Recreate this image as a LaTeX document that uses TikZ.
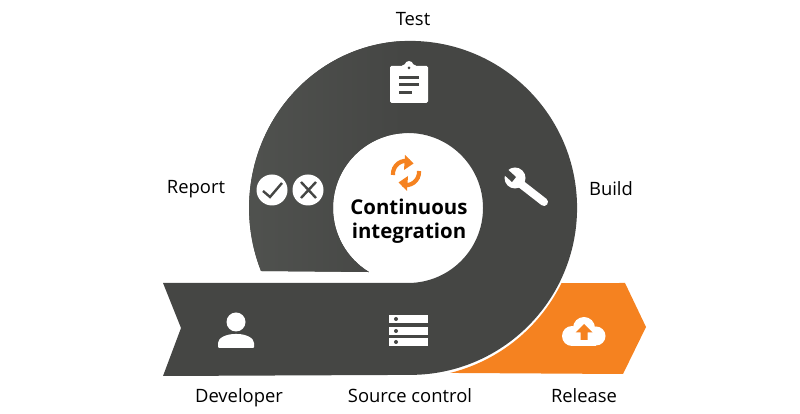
\documentclass[tikz,border=0pt]{standalone}
\usepackage{fontspec}
\setmainfont{Open Sans}
\usetikzlibrary{positioning,calc}
\definecolor{ribbondark}{HTML}{454644}
\definecolor{ribbonlight}{HTML}{666962}
\definecolor{ribbonedge}{HTML}{50524F}
\definecolor{releaseorange}{HTML}{F58220}
\newcommand{\ribbonpath}{(261,143) arc[start angle=202.2,end angle=90,x radius=161pt,y radius=167pt] arc[start angle=90,end angle=-90,radius=167pt] -- (163,38) -- (181,86) -- (163,131) -- (408,131) arc[start angle=-90,end angle=238.6,radius=75pt] -- cycle}
\begin{document}
\begin{tikzpicture}
	[x=1pt,y=1pt,
	lbl/.style={inner sep=0pt,anchor=base,font=\fontsize{18.4}{20}\selectfont},
	title/.style={inner sep=0pt,anchor=base,font=\fontsize{20.4}{24}\selectfont\bfseries},
	icon/.style={fill=white,draw=none},
	iconline/.style={draw=ribbondark,line width=3pt},
	sync/.style={draw=releaseorange,line width=4.2pt}]
	\useasboundingbox (0,0) rectangle (800,414);
	%RIBBON
	\fill[ribbondark] \ribbonpath;
	\begin{scope}
	\clip \ribbonpath;
	\shade[left color=ribbonedge,middle color=ribbonlight,right color=ribbondark] (240,134) rectangle (404,380);
	\end{scope}
	\fill[releaseorange] ($(409,206)+(-26.2:170pt)$) -- (625,131) -- (646,87) -- (623,40) -- ($(409,206)+(-76:170pt)$) arc[start angle=-76,end angle=-26.2,radius=170pt] -- cycle;
	%LABELS
	\node[lbl] (test) at (413,388) {Test};
	\node[lbl] (report) at (196,220) {Report};
	\node[lbl] (build) at (611,218) {Build};
	\node[lbl] (developer) at (239,11) {Developer};
	\node[lbl] (source) at (410,11) {Source control};
	\node[lbl] (release) at (584,11) {Release};
	\node[title] (cont) at (409,199) {Continuous};
	\node[title] (integ) at (409,175) {integration};
	%SYNC
	\draw[sync] (393,239) arc[start angle=185,end angle=75,radius=13pt];
	\fill[releaseorange] (405,259) -- (413.5,250.5) -- (404,244) -- cycle;
	\draw[sync] (419,243) arc[start angle=5,end angle=-105,radius=13pt];
	\fill[releaseorange] (407,223) -- (398.5,231.5) -- (408,238) -- cycle;
	%TEST
	\fill[icon,rounded corners=1.5pt] (390,311) rectangle (428,348);
	\fill[icon,rounded corners=1pt] (402,345) -- (402,349) -- (405,349) arc[start angle=180,end angle=0,radius=4pt] -- (416,349) -- (416,345) -- cycle;
	\fill[ribbondark] (409,346) circle (1.5pt);
	\foreach \y/\xend in {336/419,329/419,321/412}
	\draw[iconline] (399,\y) -- (\xend,\y);
	%BUILD
	\draw[white,line width=8pt,line cap=round] (517,233) -- (544,212);
	\fill[icon] (515,236) circle (10.5pt);
	\fill[ribbondark] (505,247) -- (516,237) -- (512,232) -- (501,242) -- cycle;
	%REPORT
	\foreach \x/\n in {272/check,308/cross}
	\node[circle,fill=white,minimum size=31pt,inner sep=0pt] (\n) at (\x,224) {};
	\draw[iconline,line width=2.4pt] (263,223) -- (270,217) -- (282,231);
	\draw[iconline,line width=2.4pt] (301,232) -- (316,216) (301,216) -- (316,232);
	%DEVELOPER
	\fill[icon] (236,92) circle (9.5pt);
	\fill[icon,rounded corners=1pt] (218,66) -- (218,70) .. controls (218,76) and (226,80) .. (236,80) .. controls (246,80) and (254,76) .. (254,70) -- (254,66) -- cycle;
	%SOURCE CONTROL
	\foreach \y in {95,83,72}
	{
		\fill[icon] (389,\y-4) rectangle (428,\y+4);
		\fill[ribbondark] (396,\y) circle (2pt);
	};
	%RELEASE
	\fill[icon] (572,78) circle (10pt);
	\fill[icon] (596,78) circle (9.5pt);
	\fill[icon] (584,86) circle (11pt);
	\fill[icon] (572,68) rectangle (596,80);
	\fill[releaseorange] (584,90) -- (592.5,81.5) -- (587.5,81.5) -- (587.5,74) -- (580.5,74) -- (580.5,81.5) -- (575.5,81.5) -- cycle;
\end{tikzpicture}
\end{document}
